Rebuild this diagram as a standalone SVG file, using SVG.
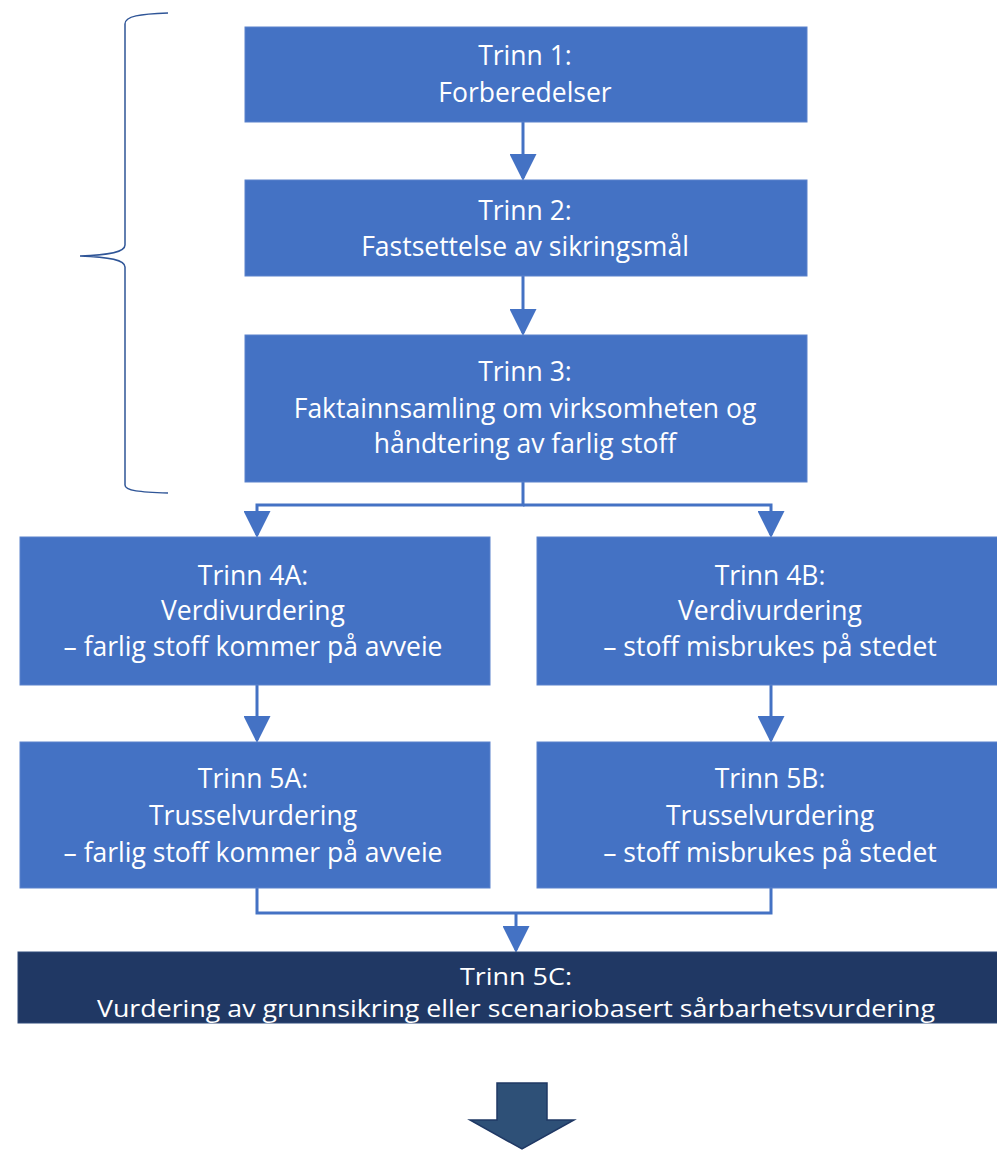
<svg xmlns="http://www.w3.org/2000/svg" width="997" height="1152" viewBox="0 0 997 1152">
<style>
.box{fill:#4472C4;stroke:#5B82CC;stroke-width:1}
.dark{fill:#203864;stroke:#2F4A7A;stroke-width:1}
.t{font-family:"Open Sans","Liberation Sans",sans-serif;font-size:26.5px;fill:#FFFFFF;text-anchor:middle}
.s{font-size:23px}
.c{fill:none;stroke:#4472C4;stroke-width:3}
</style>
<defs>
<marker id="ah" markerWidth="9" markerHeight="9" refX="8" refY="4.5" orient="auto" markerUnits="strokeWidth">
<path d="M0,0 L9,4.5 L0,9 Z" fill="#4472C4"/>
</marker>
</defs>
<rect width="997" height="1152" fill="#FFFFFF"/>
<g id="brace">
<path d="M168,13 C140,14 125,16 125,24 L125,245 C125,252 110,255 80,256 C110,257 125,260 125,267 L125,485 C125,491 140,492 168,493" fill="none" stroke="#2F5597" stroke-width="1.5"/>
</g>
<g id="connectors">
<path class="c" d="M523,122 L523,178" marker-end="url(#ah)"/>
<path class="c" d="M523,276 L523,333" marker-end="url(#ah)"/>
<path class="c" d="M523,482 L523,505 L257,505 L257,535" marker-end="url(#ah)"/>
<path class="c" d="M523,505 L771,505 L771,535" marker-end="url(#ah)"/>
<path class="c" d="M257,685 L257,740" marker-end="url(#ah)"/>
<path class="c" d="M771,685 L771,740" marker-end="url(#ah)"/>
<path class="c" d="M257,888 L257,913 L771,913 L771,888"/>
<path class="c" d="M516,913 L516,950" marker-end="url(#ah)"/>
</g>
<g id="n1">
<rect class="box" x="245" y="27" width="562" height="95"/>
<text class="t" x="525" y="65">Trinn 1:</text>
<text class="t" x="525" y="102">Forberedelser</text>
</g>
<g id="n2">
<rect class="box" x="245" y="180" width="562" height="96"/>
<text class="t" x="525" y="220">Trinn 2:</text>
<text class="t" x="525" y="256">Fastsettelse av sikringsmål</text>
</g>
<g id="n3">
<rect class="box" x="245" y="335" width="562" height="147"/>
<text class="t" x="525" y="381">Trinn 3:</text>
<text class="t" x="525" y="418">Faktainnsamling om virksomheten og</text>
<text class="t" x="525" y="453">håndtering av farlig stoff</text>
</g>
<g id="n4a">
<rect class="box" x="20" y="537" width="470" height="148"/>
<text class="t" x="253" y="585">Trinn 4A:</text>
<text class="t" x="253" y="620">Verdivurdering</text>
<text class="t" x="253" y="656">– farlig stoff kommer på avveie</text>
</g>
<g id="n4b">
<rect class="box" x="537" y="537" width="462" height="148"/>
<text class="t" x="770" y="585">Trinn 4B:</text>
<text class="t" x="770" y="620">Verdivurdering</text>
<text class="t" x="770" y="656">– stoff misbrukes på stedet</text>
</g>
<g id="n5a">
<rect class="box" x="20" y="742" width="470" height="146"/>
<text class="t" x="253" y="788">Trinn 5A:</text>
<text class="t" x="253" y="825">Trusselvurdering</text>
<text class="t" x="253" y="862">– farlig stoff kommer på avveie</text>
</g>
<g id="n5b">
<rect class="box" x="537" y="742" width="462" height="146"/>
<text class="t" x="770" y="788">Trinn 5B:</text>
<text class="t" x="770" y="825">Trusselvurdering</text>
<text class="t" x="770" y="862">– stoff misbrukes på stedet</text>
</g>
<g id="n5c">
<rect class="dark" x="18" y="952" width="981" height="71"/>
<text class="t s" x="516" y="985" textLength="112" lengthAdjust="spacingAndGlyphs">Trinn 5C:</text>
<text class="t s" x="516" y="1017" textLength="838" lengthAdjust="spacingAndGlyphs">Vurdering av grunnsikring eller scenariobasert sårbarhetsvurdering</text>
</g>
<g id="bigarrow">
<path d="M497,1083 L547,1083 L547,1120 L574,1120 L522,1149 L470,1120 L497,1120 Z" fill="#2E5077" stroke="#1F3864" stroke-width="1.5"/>
</g>
</svg>
